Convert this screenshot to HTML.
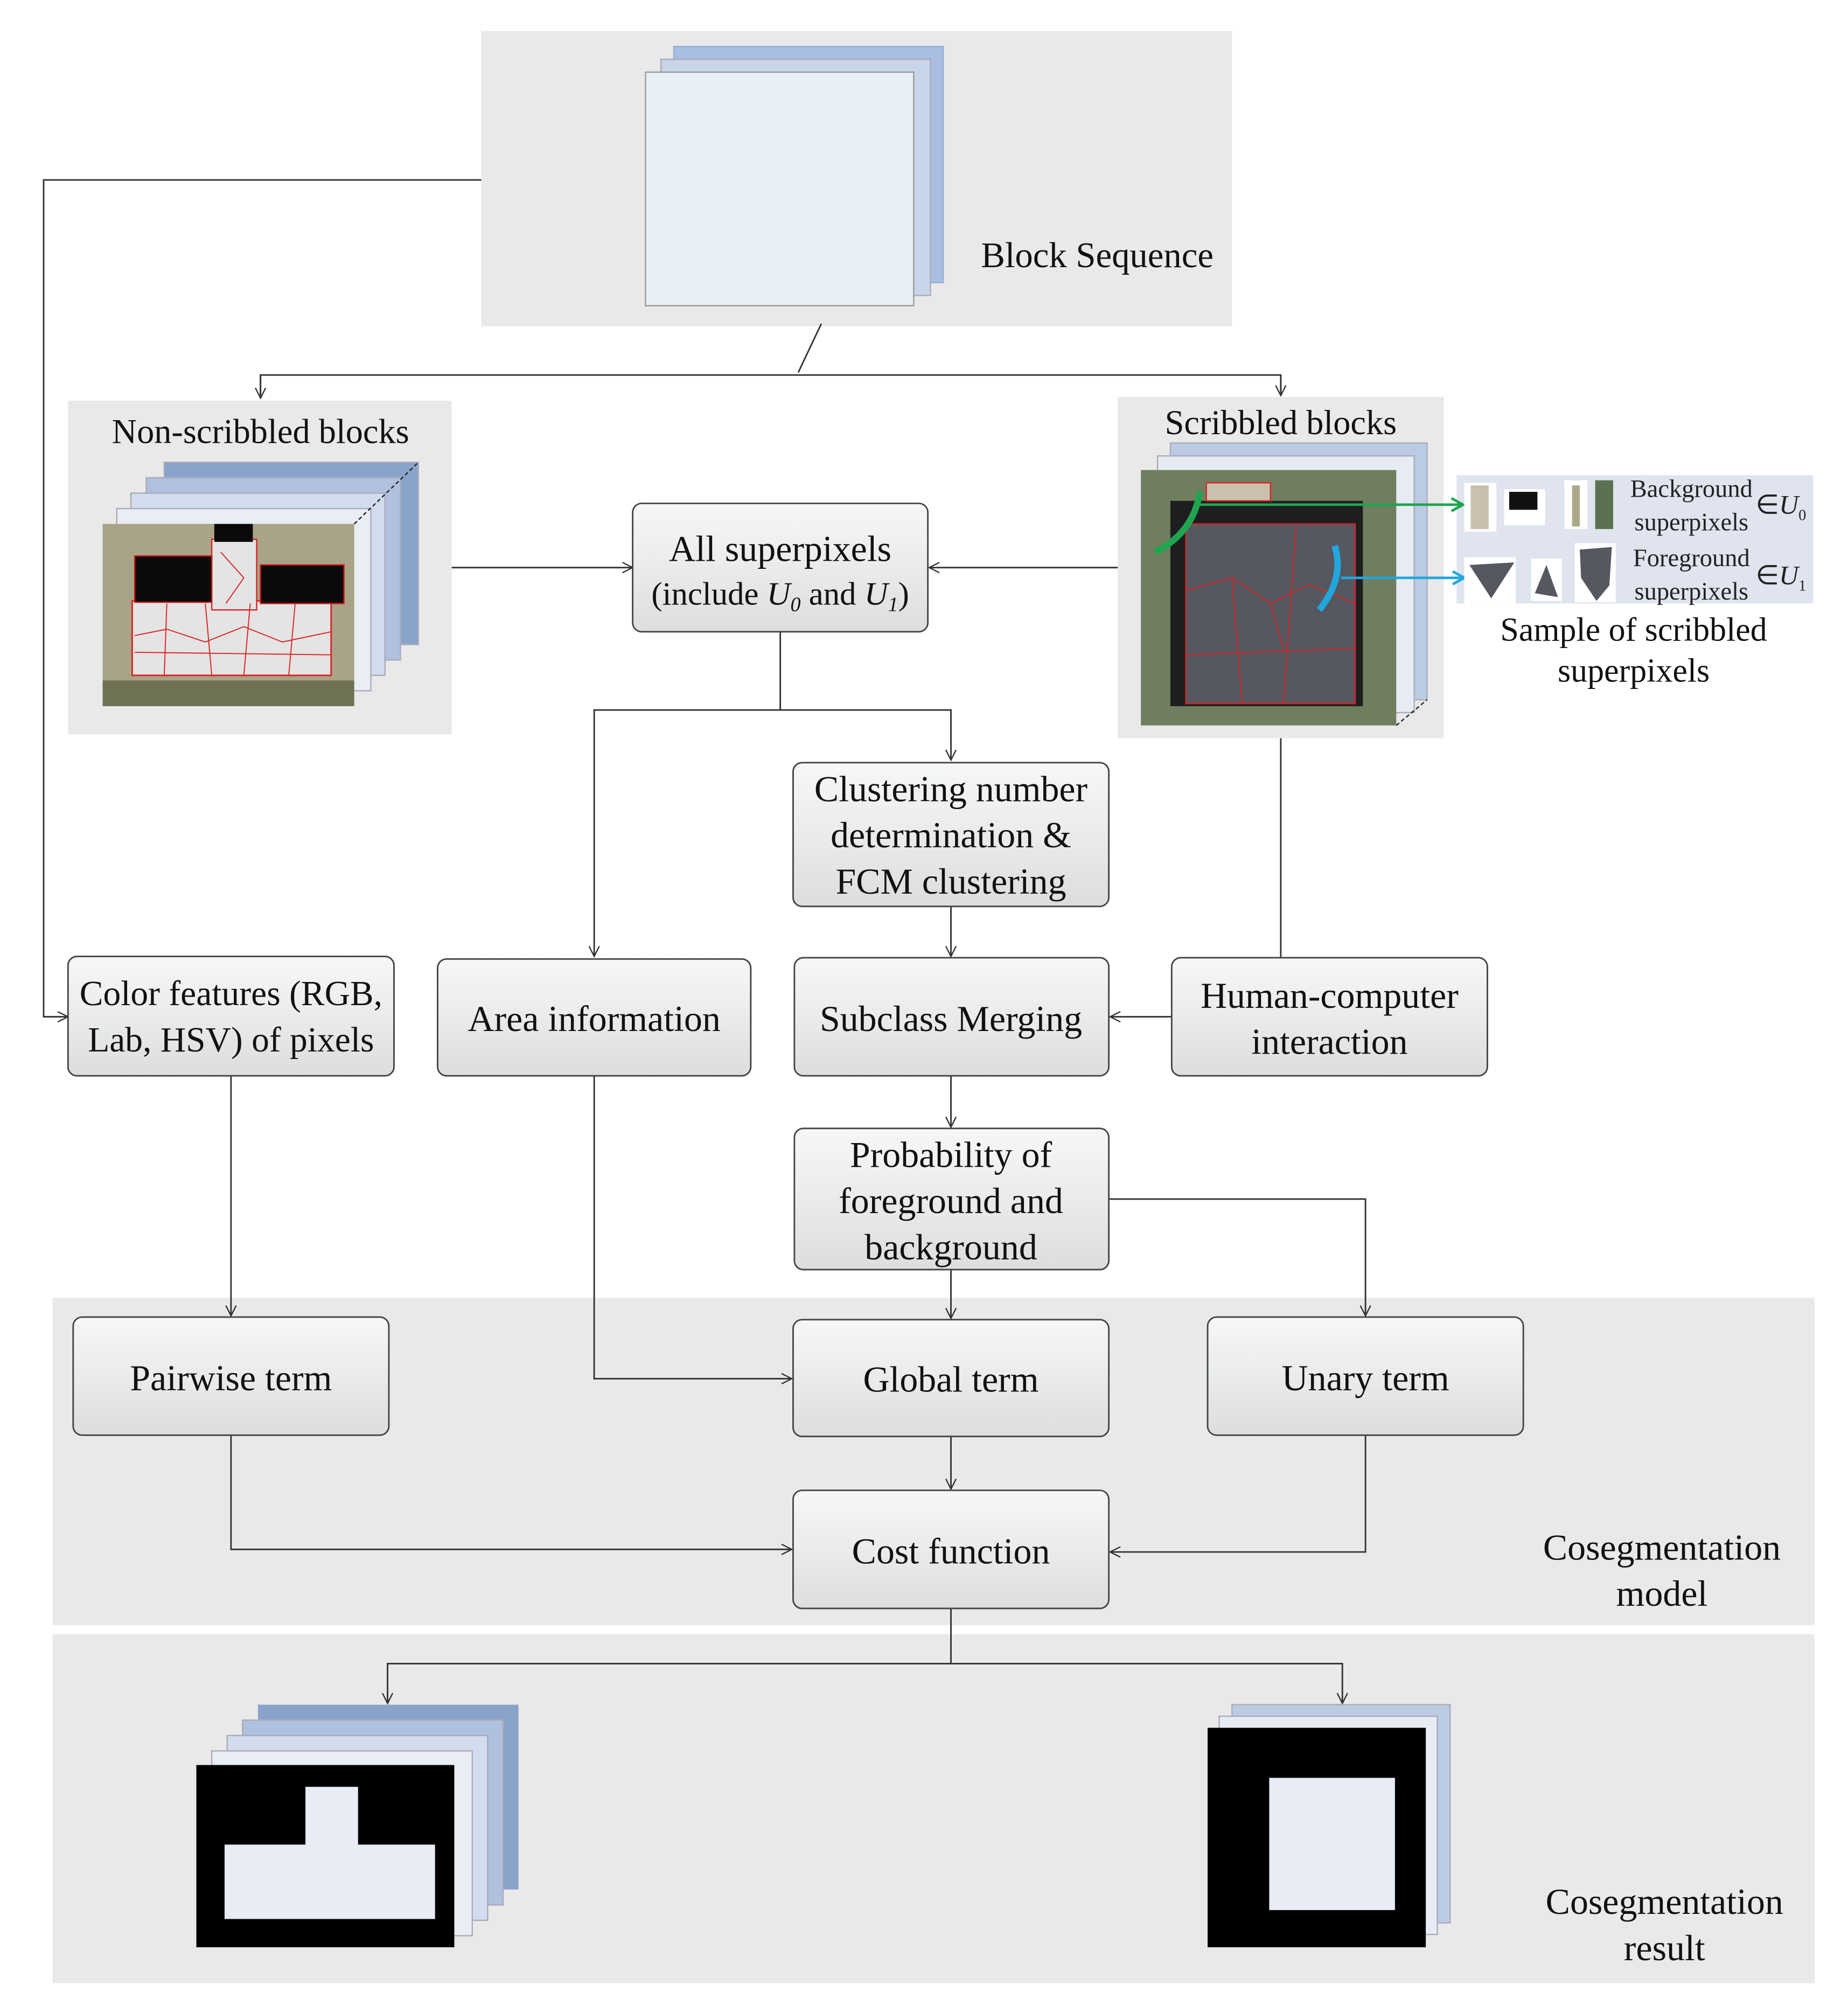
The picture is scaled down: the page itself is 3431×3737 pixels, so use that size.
<!DOCTYPE html>
<html><head><meta charset="utf-8"><style>html,body{margin:0;padding:0;background:#fff}svg{display:block}</style></head><body>
<svg xmlns="http://www.w3.org/2000/svg" width="3431" height="3737" viewBox="0 0 1440 1568">
<defs>
<linearGradient id="g" x1="0" y1="0" x2="0" y2="1"><stop offset="0" stop-color="#f6f7f8"/><stop offset="0.5" stop-color="#e9ebec"/><stop offset="1" stop-color="#dcdede"/></linearGradient>
<marker id="a" markerWidth="10" markerHeight="10" refX="9" refY="5" orient="auto" markerUnits="userSpaceOnUse"><path d="M1,1 L9,5 L1,9" fill="none" stroke="#333" stroke-width="1"/></marker>
<marker id="ag" markerWidth="12" markerHeight="12" refX="10" refY="6" orient="auto" markerUnits="userSpaceOnUse"><path d="M1,1 L10,6 L1,11" fill="none" stroke="#1fa54f" stroke-width="2"/></marker>
<marker id="ac" markerWidth="12" markerHeight="12" refX="10" refY="6" orient="auto" markerUnits="userSpaceOnUse"><path d="M1,1 L10,6 L1,11" fill="none" stroke="#21a7dd" stroke-width="2"/></marker>
</defs>
<g font-family="Liberation Serif, serif" fill="#111">
<rect x="375" y="24" width="585" height="230" fill="#e9e9e9"/>
<rect x="53" y="312" width="299" height="260" fill="#e9e9e9"/>
<rect x="871" y="309" width="254" height="266" fill="#e9e9e9"/>
<rect x="1135" y="370" width="278" height="100" fill="#dfe4ef"/>
<rect x="41" y="1011" width="1373" height="255" fill="#e9e9e9"/>
<rect x="41" y="1273" width="1373" height="272" fill="#e9e9e9"/>

<rect x="525" y="36" width="210" height="184" fill="#a8bee3" stroke="#9aaed0"/>
<rect x="515" y="46" width="210" height="184" fill="#c9d6ea" stroke="#aab"/>
<rect x="503" y="56" width="209" height="182" fill="#e8eff5" stroke="#999"/>
<text x="855" y="208" font-size="28" text-anchor="middle">Block Sequence</text>

<g stroke="#333" stroke-width="1.2" fill="none">
<polyline points="375,140 34,140 34,792 53,792" marker-end="url(#a)"/>
<line x1="640" y1="252" x2="622" y2="290"/>
<polyline points="203,310 203,292 998,292 998,308" />
<line x1="203" y1="292" x2="203" y2="310" marker-end="url(#a)"/>
<line x1="998" y1="292" x2="998" y2="308" marker-end="url(#a)"/>
<line x1="352" y1="442" x2="493" y2="442" marker-end="url(#a)"/>
<line x1="871" y1="442" x2="724" y2="442" marker-end="url(#a)"/>
<polyline points="608,492 608,553 463,553 463,745" marker-end="url(#a)"/>
<polyline points="608,553 741,553 741,592" marker-end="url(#a)"/>
<line x1="741" y1="706" x2="741" y2="745" marker-end="url(#a)"/>
<line x1="998" y1="575" x2="998" y2="746"/>
<line x1="913" y1="792" x2="865" y2="792" marker-end="url(#a)"/>
<line x1="741" y1="838" x2="741" y2="878" marker-end="url(#a)"/>
<line x1="180" y1="838" x2="180" y2="1025" marker-end="url(#a)"/>
<polyline points="463,838 463,1074 617,1074" marker-end="url(#a)"/>
<line x1="741" y1="989" x2="741" y2="1027" marker-end="url(#a)"/>
<polyline points="864,934 1064,934 1064,1025" marker-end="url(#a)"/>
<line x1="741" y1="1119" x2="741" y2="1160" marker-end="url(#a)"/>
<polyline points="180,1118 180,1207 617,1207" marker-end="url(#a)"/>
<polyline points="1064,1118 1064,1209 865,1209" marker-end="url(#a)"/>
<polyline points="741,1253 741,1296 302,1296 302,1327" marker-end="url(#a)"/>
<polyline points="741,1296 1046,1296 1046,1327" marker-end="url(#a)"/>
</g>

<text x="203" y="345" font-size="27" text-anchor="middle">Non-scribbled blocks</text>
<rect x="128" y="360" width="198" height="142" fill="#8aa3cb" stroke="#aab"/>
<rect x="114" y="372" width="198" height="142" fill="#afc1de" stroke="#aab"/>
<rect x="102" y="384" width="198" height="142" fill="#d2dcec" stroke="#aab"/>
<rect x="91" y="396" width="198" height="142" fill="#e9edf4" stroke="#aab"/>
<line x1="276" y1="408" x2="326" y2="360" stroke="#222" stroke-dasharray="3,2"/>
<rect x="80" y="408" width="196" height="142" fill="#a9a388"/>
<rect x="80" y="530" width="196" height="20" fill="#707254"/>
<rect x="103" y="468" width="155" height="58" fill="#e4e4e4" stroke="#d22" stroke-width="1.2"/>
<rect x="165" y="420" width="35" height="55" fill="#e4e4e4" stroke="#d22"/>
<rect x="105" y="433" width="60" height="36" fill="#0a0a0a" stroke="#c11"/>
<rect x="203" y="440" width="65" height="30" fill="#0a0a0a" stroke="#c11"/>
<rect x="167" y="408" width="30" height="14" fill="#0a0a0a"/>
<g stroke="#d22" stroke-width="0.8" fill="none"><path d="M105,495 L130,490 L160,500 L190,488 L220,500 L258,492 M130,470 L128,526 M160,470 L165,526 M195,470 L190,526 M230,470 L225,526 M105,508 L258,510 M172,430 L190,450 L176,470"/></g>

<text x="998" y="338" font-size="27" text-anchor="middle">Scribbled blocks</text>
<rect x="912" y="345" width="200" height="200" fill="#bccbe4" stroke="#aab"/>
<rect x="902" y="355" width="200" height="200" fill="#e7ecf4" stroke="#aab"/>
<line x1="1088" y1="565" x2="1112" y2="545" stroke="#222" stroke-dasharray="3,2"/>
<rect x="889" y="366" width="199" height="199" fill="#6f7e5e"/>
<rect x="912" y="390" width="150" height="160" fill="#1e1e20"/>
<rect x="924" y="408" width="132" height="140" fill="#555860" stroke="#d22"/>
<rect x="940" y="376" width="50" height="14" fill="#c9c1ad" stroke="#d22"/>
<g stroke="#d22" stroke-width="0.8" fill="none"><path d="M924,460 L960,450 L990,470 L1020,455 L1056,470 M960,450 L968,548 M1010,410 L1000,548 M924,510 L1056,505 M990,470 L1000,505"/></g>
<path d="M935,383 Q930,415 900,430" stroke="#1fa54f" stroke-width="5" fill="none"/>
<path d="M1040,425 Q1048,450 1028,475" stroke="#21a7dd" stroke-width="5" fill="none"/>
<line x1="935" y1="393" x2="1140" y2="393" stroke="#1fa54f" stroke-width="2" marker-end="url(#ag)"/>
<line x1="1045" y1="450" x2="1141" y2="450" stroke="#21a7dd" stroke-width="2" marker-end="url(#ac)"/>

<rect x="1141" y="376" width="25" height="38" fill="#fff"/><rect x="1146" y="378" width="14" height="34" fill="#c9c1ad"/>
<rect x="1172" y="381" width="32" height="28" fill="#fff"/><rect x="1176" y="383" width="22" height="14" fill="#111"/>
<rect x="1219" y="374" width="18" height="38" fill="#fff"/><rect x="1225" y="378" width="6" height="32" fill="#a9a98a"/>
<rect x="1243" y="374" width="14" height="38" fill="#5b7252"/>
<rect x="1141" y="434" width="40" height="36" fill="#fff"/><path d="M1145,440 L1180,438 L1162,466 Z" fill="#555860"/>
<rect x="1193" y="435" width="24" height="33" fill="#fff"/><path d="M1205,440 L1214,465 L1196,462 Z" fill="#555860"/>
<rect x="1227" y="423" width="32" height="46" fill="#fff"/><path d="M1231,428 L1256,426 L1254,456 L1244,468 L1232,450 Z" fill="#555860"/>
<g font-size="19.5" fill="#222">
<text x="1318" y="387" text-anchor="middle">Background</text>
<text x="1318" y="413" text-anchor="middle">superpixels</text>
<text x="1318" y="441" text-anchor="middle">Foreground</text>
<text x="1318" y="467" text-anchor="middle">superpixels</text>
<text x="1368" y="400" font-size="21">∈<tspan font-style="italic">U</tspan><tspan font-size="12" dy="5">0</tspan></text>
<text x="1368" y="455" font-size="21">∈<tspan font-style="italic">U</tspan><tspan font-size="12" dy="5">1</tspan></text>
</g>
<text x="1273" y="499" font-size="26" text-anchor="middle">Sample of scribbled</text>
<text x="1273" y="531" font-size="26" text-anchor="middle">superpixels</text>

<g stroke="#444" stroke-width="1.2" fill="url(#g)">
<rect x="493" y="392" width="230" height="100" rx="7"/>
<rect x="618" y="594" width="246" height="112" rx="7"/>
<rect x="53" y="745" width="254" height="93" rx="7"/>
<rect x="341" y="747" width="244" height="91" rx="7"/>
<rect x="619" y="746" width="245" height="92" rx="7"/>
<rect x="913" y="746" width="246" height="92" rx="7"/>
<rect x="619" y="879" width="245" height="110" rx="7"/>
<rect x="57" y="1026" width="246" height="92" rx="7"/>
<rect x="618" y="1028" width="246" height="91" rx="7"/>
<rect x="941" y="1026" width="246" height="92" rx="7"/>
<rect x="618" y="1161" width="246" height="92" rx="7"/>
</g>
<g font-size="28.5" text-anchor="middle">
<text x="608" y="437">All superpixels</text>
<text x="608" y="471" font-size="25.5">(include <tspan font-style="italic">U</tspan><tspan font-style="italic" font-size="16" dy="5">0</tspan><tspan dy="-5"> and </tspan><tspan font-style="italic">U</tspan><tspan font-style="italic" font-size="16" dy="5">1</tspan><tspan dy="-5">)</tspan></text>
<text x="741" y="624">Clustering number</text>
<text x="741" y="660">determination &amp;</text>
<text x="741" y="696">FCM clustering</text>
<text x="180" y="783" font-size="27.5">Color features (RGB,</text>
<text x="180" y="819" font-size="27.5">Lab, HSV)  of pixels</text>
<text x="463" y="803">Area information</text>
<text x="741" y="803">Subclass Merging</text>
<text x="1036" y="785">Human-computer</text>
<text x="1036" y="821">interaction</text>
<text x="741" y="909">Probability of</text>
<text x="741" y="945">foreground and</text>
<text x="741" y="981">background</text>
<text x="180" y="1083">Pairwise term</text>
<text x="741" y="1084">Global term</text>
<text x="1064" y="1083">Unary term</text>
<text x="741" y="1218">Cost function</text>
<text x="1295" y="1215">Cosegmentation</text>
<text x="1295" y="1251">model</text>
<text x="1297" y="1491">Cosegmentation</text>
<text x="1297" y="1527">result</text>
</g>

<rect x="201" y="1328" width="203" height="144" fill="#8aa3cb"/>
<rect x="189" y="1340" width="203" height="144" fill="#afc1de" stroke="#aab"/>
<rect x="177" y="1352" width="203" height="144" fill="#d2dcec" stroke="#aab"/>
<rect x="165" y="1364" width="203" height="144" fill="#e9edf4" stroke="#aab"/>
<rect x="153" y="1375" width="201" height="142" fill="#000"/>
<path d="M175,1437 L238,1437 L238,1392 L279,1392 L279,1437 L339,1437 L339,1495 L175,1495 Z" fill="#e8ecf4"/>
<rect x="960" y="1328" width="170" height="170" fill="#bccbe4" stroke="#aab"/>
<rect x="950" y="1337" width="170" height="170" fill="#e7ecf4" stroke="#aab"/>
<rect x="941" y="1346" width="170" height="171" fill="#000"/>
<rect x="989" y="1385" width="98" height="103" fill="#e8ecf4"/>
</g>
</svg>
</body></html>
